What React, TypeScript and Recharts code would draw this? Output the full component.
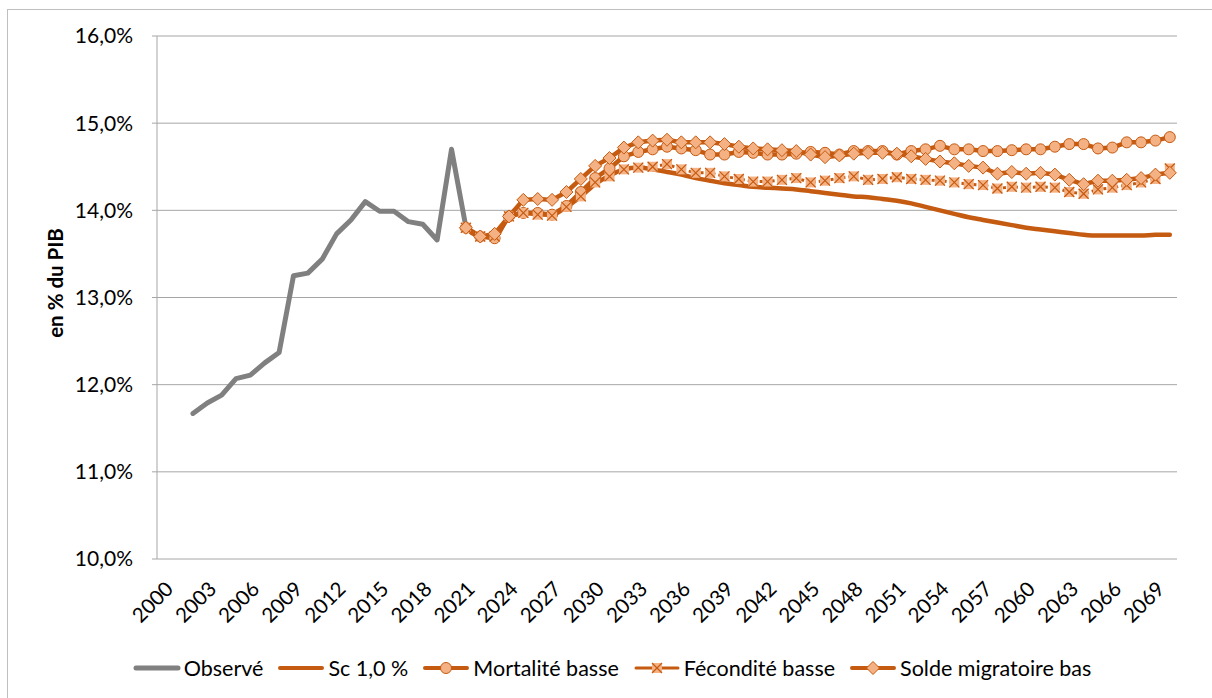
import { CartesianGrid, Legend, Line, LineChart, XAxis, YAxis } from 'recharts';

const years = [
  2000, 2001, 2002, 2003, 2004, 2005, 2006, 2007, 2008, 2009,
  2010, 2011, 2012, 2013, 2014, 2015, 2016, 2017, 2018, 2019,
  2020, 2021, 2022, 2023, 2024, 2025, 2026, 2027, 2028, 2029,
  2030, 2031, 2032, 2033, 2034, 2035, 2036, 2037, 2038, 2039,
  2040, 2041, 2042, 2043, 2044, 2045, 2046, 2047, 2048, 2049,
  2050, 2051, 2052, 2053, 2054, 2055, 2056, 2057, 2058, 2059,
  2060, 2061, 2062, 2063, 2064, 2065, 2066, 2067, 2068, 2069,
  2070,
];

const yearLabels = [
  2000, 2003, 2006, 2009, 2012, 2015, 2018, 2021, 2024, 2027, 2030, 2033,
  2036, 2039, 2042, 2045, 2048, 2051, 2054, 2057, 2060, 2063, 2066, 2069,
];

const percentTicks = [10, 11, 12, 13, 14, 15, 16];

// observé : 2002 -> 2021
const observedStart = 2002;
const observe = [
  11.67, 11.79, 11.88, 12.07, 12.11, 12.25, 12.37, 13.25, 13.28, 13.44,
  13.73, 13.89, 14.10, 13.99, 13.99, 13.87, 13.84, 13.66, 14.70, 13.81,
];

// projections : 2021 -> 2070
const projStart = 2021;
const sc10 = [
  13.80, 13.70, 13.70, 13.92, 13.97, 13.96, 13.95, 14.04, 14.16, 14.30,
  14.40, 14.47, 14.49, 14.47, 14.44, 14.41, 14.37, 14.34, 14.31, 14.29,
  14.27, 14.26, 14.25, 14.24, 14.22, 14.20, 14.18, 14.16, 14.15, 14.13,
  14.11, 14.08, 14.04, 14.00, 13.96, 13.92, 13.89, 13.86, 13.83, 13.80,
  13.78, 13.76, 13.74, 13.72, 13.71, 13.71, 13.71, 13.71, 13.72, 13.72,
];
const mortalite = [
  13.80, 13.70, 13.68, 13.93, 13.97, 13.97, 13.95, 14.05, 14.21, 14.37,
  14.48, 14.62, 14.67, 14.70, 14.73, 14.71, 14.69, 14.64, 14.64, 14.67,
  14.66, 14.64, 14.64, 14.65, 14.67, 14.66, 14.64, 14.68, 14.68, 14.68,
  14.64, 14.68, 14.70, 14.74, 14.70, 14.70, 14.68, 14.68, 14.69, 14.70,
  14.70, 14.73, 14.76, 14.76, 14.71, 14.72, 14.78, 14.78, 14.80, 14.84,
];
const fecondite = [
  13.80, 13.70, 13.70, 13.93, 13.97, 13.95, 13.94, 14.04, 14.16, 14.32,
  14.39, 14.47, 14.49, 14.50, 14.53, 14.47, 14.43, 14.43, 14.39, 14.36,
  14.33, 14.33, 14.35, 14.37, 14.32, 14.34, 14.37, 14.39, 14.35, 14.36,
  14.38, 14.36, 14.35, 14.34, 14.32, 14.30, 14.29, 14.25, 14.27, 14.26,
  14.27, 14.26, 14.21, 14.19, 14.24, 14.26, 14.29, 14.32, 14.36, 14.48,
];
const soldeMigratoire = [
  13.80, 13.70, 13.73, 13.93, 14.12, 14.13, 14.12, 14.21, 14.36, 14.51,
  14.60, 14.72, 14.78, 14.80, 14.81, 14.78, 14.78, 14.78, 14.76, 14.73,
  14.71, 14.70, 14.69, 14.68, 14.64, 14.61, 14.63, 14.65, 14.66, 14.66,
  14.65, 14.62, 14.59, 14.56, 14.54, 14.51, 14.49, 14.42, 14.44, 14.42,
  14.43, 14.41, 14.35, 14.30, 14.34, 14.34, 14.35, 14.37, 14.41, 14.43,
];

const pick = (arr: number[], start: number, year: number) => {
  const i = year - start;
  return i >= 0 && i < arr.length ? arr[i] : null;
};

const data = years.map((year) => ({
  year,
  observe: pick(observe, observedStart, year),
  sc10: pick(sc10, projStart, year),
  mortalite: pick(mortalite, projStart, year),
  fecondite: pick(fecondite, projStart, year),
  solde: pick(soldeMigratoire, projStart, year),
}));

const boundaryTicks = [...years.map((y) => y - 0.5), years[years.length - 1] + 0.5];

const ORANGE = '#C55A11';
const PEACH = '#F4B183';
const GREY = '#808080';
const AXIS = '#A6A6A6';
const FONT = 'Lato, "Open Sans", sans-serif';

const CircleDot = (props: any) => {
  const { cx, cy, index } = props;
  if (cx == null || cy == null) return <g key={`c-${index}`} />;
  return <circle key={`c-${index}`} cx={cx} cy={cy} r={5.5} fill={PEACH} stroke={ORANGE} strokeWidth={1} />;
};

const DiamondDot = (props: any) => {
  const { cx, cy, index } = props;
  if (cx == null || cy == null) return <g key={`d-${index}`} />;
  const s = 6.5;
  return (
    <polygon
      key={`d-${index}`}
      points={`${cx},${cy - s} ${cx + s},${cy} ${cx},${cy + s} ${cx - s},${cy}`}
      fill={PEACH}
      stroke={ORANGE}
      strokeWidth={1}
    />
  );
};

const CrossDot = (props: any) => {
  const { cx, cy, index } = props;
  if (cx == null || cy == null) return <g key={`x-${index}`} />;
  const s = 5;
  return (
    <g key={`x-${index}`}>
      <rect x={cx - s} y={cy - s} width={2 * s} height={2 * s} fill={PEACH} />
      <path d={`M${cx - s},${cy - s}L${cx + s},${cy + s}M${cx + s},${cy - s}L${cx - s},${cy + s}`} stroke={ORANGE} strokeWidth={1.2} />
    </g>
  );
};

const legendItems = [
  { name: 'Observé', color: GREY, width: 5, marker: null },
  { name: 'Sc 1,0 %', color: ORANGE, width: 4, marker: null },
  { name: 'Mortalité basse', color: ORANGE, width: 4, marker: 'circle' },
  { name: 'Fécondité basse', color: ORANGE, width: 3, marker: 'cross' },
  { name: 'Solde migratoire bas', color: ORANGE, width: 4, marker: 'diamond' },
];

const LegendContent = () => (
  <div style={{ display: 'flex', justifyContent: 'center', gap: 14, fontFamily: FONT, fontSize: 21.5, lineHeight: '24px', color: '#000' }}>
    {legendItems.map((it) => (
      <div key={it.name} style={{ display: 'flex', alignItems: 'center' }}>
        <svg width={48} height={20} style={{ marginRight: 3 }}>
          <line x1={3} y1={10} x2={45} y2={10} stroke={it.color} strokeWidth={it.width} strokeLinecap="round" />
          {it.marker === 'circle' && <CircleDot cx={24} cy={10} index={0} />}
          {it.marker === 'diamond' && <DiamondDot cx={24} cy={10} index={0} />}
          {it.marker === 'cross' && <CrossDot cx={24} cy={10} index={0} />}
        </svg>
        <span>{it.name}</span>
      </div>
    ))}
  </div>
);

const YTitle = (props: any) => {
  const { viewBox } = props;
  const x = viewBox.x + 55;
  const y = 283;
  return (
    <text x={x} y={y} transform={`rotate(-90 ${x} ${y})`} textAnchor="middle" dominantBaseline="central"
      fontFamily={FONT} fontSize={20.5} fontWeight="bold" fill="#000">
      en % du PIB
    </text>
  );
};

const App = () => {
  return (
    <div style={{ position: 'absolute', left: 0, top: 0, width: 1212, height: 698, overflow: 'hidden', background: '#fff' }}>
      <div style={{ position: 'absolute', left: 7, top: 9, width: 1205, height: 689, borderLeft: '1px solid #BFBFBF', borderTop: '1px solid #BFBFBF' }} />
      <LineChart width={1212} height={698} data={data} margin={{ top: 36, right: 35, left: 0, bottom: 0 }}>
        <CartesianGrid vertical={false} stroke={AXIS} strokeWidth={1} />
        <XAxis
          xAxisId="marks"
          dataKey="year"
          type="number"
          domain={[1999.5, 2070.5]}
          ticks={boundaryTicks}
          interval={0}
          height={0}
          tick={false}
          tickSize={5}
          tickLine={{ stroke: AXIS }}
          axisLine={{ stroke: AXIS }}
        />
        <XAxis
          xAxisId="years"
          dataKey="year"
          type="number"
          domain={[1999.5, 2070.5]}
          ticks={yearLabels}
          interval={0}
          height={139}
          tickSize={0}
          tickMargin={21}
          tickLine={false}
          axisLine={false}
          tick={{ angle: -45, textAnchor: 'end', fontSize: 20.5, fontFamily: FONT, fill: '#000' }}
        />
        <YAxis
          type="number"
          domain={[10, 16]}
          ticks={percentTicks}
          interval={0}
          width={157}
          tickSize={5}
          tickMargin={19}
          tickLine={{ stroke: AXIS }}
          axisLine={{ stroke: AXIS }}
          tickFormatter={(v: number) => `${v.toFixed(1).replace('.', ',')}%`}
          tick={{ fontSize: 21, fontFamily: FONT, fill: '#000' }}
          label={{ content: YTitle }}
        />
        <Legend
          layout="horizontal"
          verticalAlign="middle"
          align="center"
          wrapperStyle={{ top: 656, left: 6, width: 1212 }}
          content={LegendContent}
        />
        <Line xAxisId="years" dataKey="observe" name="Observé" stroke={GREY} strokeWidth={5} dot={false} strokeLinejoin="round" strokeLinecap="round" isAnimationActive={false} />
        <Line xAxisId="years" dataKey="sc10" name="Sc 1,0 %" type="monotone" stroke={ORANGE} strokeWidth={4.5} dot={false} strokeLinecap="round" isAnimationActive={false} />
        <Line xAxisId="years" dataKey="mortalite" name="Mortalité basse" stroke={ORANGE} strokeWidth={4.5} dot={CircleDot} strokeLinejoin="round" isAnimationActive={false} />
        <Line xAxisId="years" dataKey="fecondite" name="Fécondité basse" stroke={ORANGE} strokeWidth={3} strokeDasharray="3 3" dot={CrossDot} isAnimationActive={false} />
        <Line xAxisId="years" dataKey="solde" name="Solde migratoire bas" stroke={ORANGE} strokeWidth={4.5} dot={DiamondDot} strokeLinejoin="round" isAnimationActive={false} />
      </LineChart>
    </div>
  );
};

export default App;
